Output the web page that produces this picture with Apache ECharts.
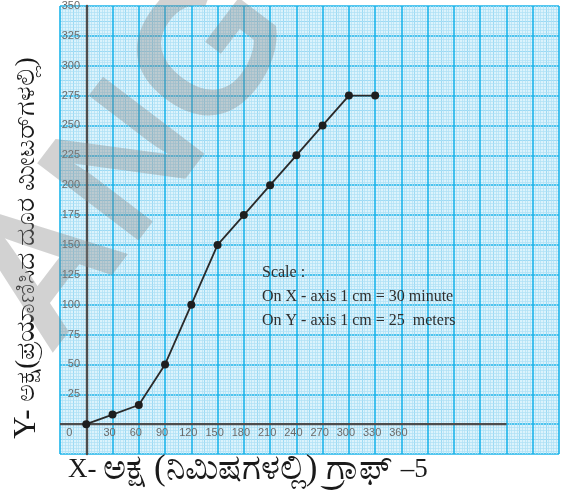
<!DOCTYPE html>
<html>
<head>
<meta charset="utf-8">
<script src="https://cdn.jsdelivr.net/npm/echarts@6/dist/echarts.min.js"></script>
<style>
html,body{margin:0;padding:0;background:#fff;}
#c{width:567px;height:504px;}
</style>
</head>
<body>
<div id="c"></div>
<script>
// ---- data ----
const minutes = [0, 30, 60, 90, 120, 150, 180, 210, 240, 270, 300, 330];
const meters  = [0, 8, 16, 50, 100, 150, 175, 200, 225, 250, 275, 275];
const xTickLabels = [0, 30, 60, 90, 120, 150, 180, 210, 240, 270, 300, 330, 360];
const yTickLabels = [25, 50, 75, 100, 125, 150, 175, 200, 225, 250, 275, 300, 325, 350];
const xAxisLineSpan = [-30, 480];
const yTitleHead = 'Y- ';
const yTitleBody = 'ಅಕ್ಷ(ಪ್ರಯಾಣಿಸಿದ ದೂರ ಮೀಟರ್‌ಗಳಲ್ಲಿ)';
const xTitleHead = 'X- ';
const xTitleBody = 'ಅಕ್ಷ (ನಿಮಿಷಗಳಲ್ಲಿ) ಗ್ರಾಫ್ ';
const xTitleTail = '–5';
const scaleLines = ['Scale :', 'On X - axis 1 cm = 30 minute', 'On Y - axis 1 cm = 25  meters'];
const watermark = 'ANG';

const BOLD = '#1cb4ea', MED = '#74cef1', MINOR = '#ade0f5', PAPER = '#dcf3fc';
const tickFont = {fontFamily: 'Liberation Sans, Arial, sans-serif', fontSize: 11, color: '#6a6a6a'};

const chart = echarts.init(document.getElementById('c'), null, {renderer: 'canvas'});
const option = {
  animation: false,
  grid: {left: 60, right: 8, top: 6, bottom: 50, show: true, backgroundColor: PAPER, borderWidth: 0},
  xAxis: [{
    type: 'value', min: -30, max: 540, interval: 30,
    axisLine: {show: true, onZero: true, lineStyle: {color: 'rgba(0,0,0,0)'}},
    axisTick: {show: false},
    axisLabel: {
      margin: -27,
      formatter: v => xTickLabels.indexOf(v) < 0 ? '' : (v === 0 ? '{o|0}' : '{a|' + v + '}'),
      rich: {
        a: Object.assign({padding: [0, 6, 0, 0]}, tickFont),
        o: Object.assign({padding: [0, 34, 0, 0]}, tickFont)
      }
    },
    splitLine: {show: true, lineStyle: {color: BOLD, width: 1.6}},
    minorTick: {show: false, splitNumber: 10},
    minorSplitLine: {show: true, lineStyle: {color: MINOR, width: 0.7}},
    z: 1
  }, {
    type: 'value', position: 'top', min: -30, max: 540, interval: 15,
    axisLine: {show: false, onZero: false}, axisTick: {show: false}, axisLabel: {show: false},
    splitLine: {show: true, lineStyle: {color: ['rgba(0,0,0,0)', MED], width: 1}},
    z: 0
  }],
  yAxis: [{
    type: 'value', min: -25, max: 350, interval: 25,
    axisLine: {show: true, onZero: true, lineStyle: {color: '#4d4d4d', width: 2.4}},
    axisTick: {show: false},
    axisLabel: Object.assign({
      margin: -20,
      formatter: v => yTickLabels.indexOf(v) < 0 ? '' : String(v)
    }, tickFont),
    splitLine: {show: true, lineStyle: {color: BOLD, width: 1.6}},
    minorTick: {show: false, splitNumber: 10},
    minorSplitLine: {show: true, lineStyle: {color: MINOR, width: 0.7}},
    z: 1
  }, {
    type: 'value', position: 'right', min: -25, max: 350, interval: 12.5,
    axisLine: {show: false, onZero: false}, axisTick: {show: false}, axisLabel: {show: false},
    splitLine: {show: true, lineStyle: {color: ['rgba(0,0,0,0)', MED], width: 1}},
    z: 0
  }],
  series: [{
    type: 'line', silent: true, symbol: 'none', z: 3,
    data: xAxisLineSpan.map(x => [x, 0]),
    lineStyle: {color: '#4d4d4d', width: 2.4}
  }, {
    type: 'line', z: 5,
    data: minutes.map((m, i) => [m, meters[i]]),
    symbol: 'circle', symbolSize: 8,
    itemStyle: {color: '#1e1e1e'},
    lineStyle: {color: '#2a2a2a', width: 1.8}
  }],
  graphic: [
    {type: 'text', left: 262, top: 261, z: 20,
     style: {text: scaleLines.join('\n'), font: '16px "Liberation Serif", "Times New Roman", serif', fill: '#2e2e2e', lineHeight: 24}},
    {type: 'text', x: 27, y: 248, rotation: Math.PI / 2, z: 20,
     style: {text: '{h|' + yTitleHead + '}{b|' + yTitleBody + '}', align: 'center', verticalAlign: 'middle',
       rich: {
         h: {font: '31px "Liberation Serif", serif', fill: '#1a1a1a', verticalAlign: 'middle'},
         b: {font: '27px "Liberation Serif", "Noto Sans", serif', fill: '#1a1a1a', verticalAlign: 'middle'}
       }}},
    {type: 'text', x: 68, y: 470, z: 20,
     style: {text: '{h|' + xTitleHead + '}{b|' + xTitleBody + '}{h|' + xTitleTail + '}', align: 'left', verticalAlign: 'middle',
       rich: {
         h: {font: '27px "Liberation Serif", serif', fill: '#1a1a1a', verticalAlign: 'middle'},
         b: {font: '35px "Liberation Serif", "Noto Sans", serif', fill: '#1a1a1a', verticalAlign: 'middle'}
       }}},
    {type: 'text', x: 134, y: 162, rotation: 0.92, z: 30, silent: true,
     style: {text: watermark, font: 'bold 185px "Liberation Sans", Arial, sans-serif', fill: 'rgba(130,130,130,0.36)', align: 'center', verticalAlign: 'middle'}}
  ]
};
chart.setOption(option);
</script>
</body>
</html>
